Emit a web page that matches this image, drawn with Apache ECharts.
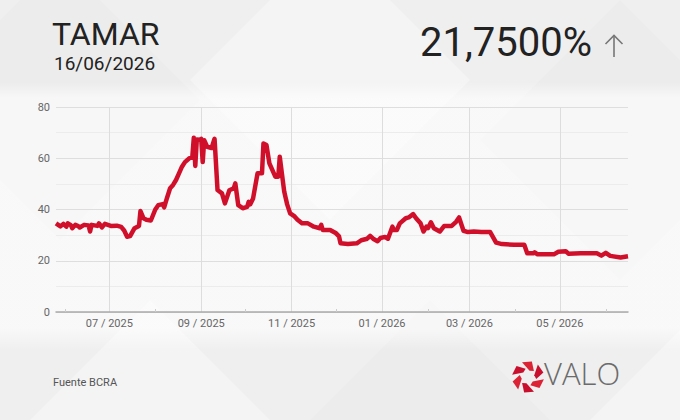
<!DOCTYPE html>
<html>
<head>
<meta charset="utf-8" />
<title>TAMAR</title>
<script src="https://cdn.jsdelivr.net/npm/echarts@6/dist/echarts.min.js"></script>
<style>
	html, body { margin: 0; padding: 0; background: #efefef; }
	#chart { width: 680px; height: 420px; }
</style>
</head>
<body>
<div id="chart"></div>
<script>
// fechas y valores (TAMAR, % TNA)
var fechas = [
	'2025-05-26', '2025-05-28', '2025-05-29', '2025-05-31', '2025-06-02', '2025-06-03', '2025-06-05', '2025-06-06',
	'2025-06-08', '2025-06-10', '2025-06-11', '2025-06-14', '2025-06-17', '2025-06-18', '2025-06-19', '2025-06-23',
	'2025-06-24', '2025-06-26', '2025-06-28', '2025-07-02', '2025-07-06', '2025-07-09', '2025-07-11', '2025-07-13',
	'2025-07-15', '2025-07-18', '2025-07-21', '2025-07-22', '2025-07-24', '2025-07-26', '2025-07-29', '2025-08-01',
	'2025-08-03', '2025-08-06', '2025-08-07', '2025-08-09', '2025-08-11', '2025-08-13', '2025-08-15', '2025-08-17',
	'2025-08-19', '2025-08-21', '2025-08-24', '2025-08-26', '2025-08-27', '2025-08-28', '2025-08-29', '2025-08-31',
	'2025-09-01', '2025-09-02', '2025-09-03', '2025-09-05', '2025-09-08', '2025-09-10', '2025-09-12', '2025-09-15',
	'2025-09-17', '2025-09-20', '2025-09-23', '2025-09-24', '2025-09-26', '2025-09-29', '2025-10-02', '2025-10-03',
	'2025-10-04', '2025-10-06', '2025-10-09', '2025-10-12', '2025-10-13', '2025-10-15', '2025-10-17', '2025-10-21',
	'2025-10-23', '2025-10-24', '2025-10-26', '2025-10-27', '2025-10-28', '2025-10-29', '2025-10-31', '2025-11-03',
	'2025-11-05', '2025-11-08', '2025-11-12', '2025-11-16', '2025-11-20', '2025-11-21', '2025-11-22', '2025-11-27',
	'2025-12-01', '2025-12-03', '2025-12-04', '2025-12-09', '2025-12-15', '2025-12-18', '2025-12-22', '2025-12-24',
	'2025-12-26', '2025-12-29', '2025-12-31', '2026-01-03', '2026-01-05', '2026-01-08', '2026-01-09', '2026-01-11',
	'2026-01-13', '2026-01-17', '2026-01-19', '2026-01-22', '2026-01-24', '2026-01-27', '2026-01-29', '2026-01-31',
	'2026-02-01', '2026-02-03', '2026-02-05', '2026-02-09', '2026-02-12', '2026-02-17', '2026-02-20', '2026-02-22',
	'2026-02-25', '2026-02-28', '2026-03-04', '2026-03-09', '2026-03-15', '2026-03-19', '2026-03-23', '2026-03-31',
	'2026-04-07', '2026-04-09', '2026-04-13', '2026-04-14', '2026-04-16', '2026-04-27', '2026-04-30', '2026-05-05',
	'2026-05-07', '2026-05-15', '2026-05-26', '2026-05-29', '2026-06-01', '2026-06-04', '2026-06-11', '2026-06-16'
];
var tasas = [
	34.6, 33.8, 33.4, 34.4, 33.3, 34.6, 33.9, 32.7,
	34.0, 33.5, 33.0, 34.0, 33.8, 31.4, 34.0, 33.6,
	34.6, 33.0, 34.4, 33.6, 33.7, 33.2, 31.8, 29.4,
	29.6, 32.7, 33.6, 39.4, 36.6, 36.0, 35.7, 40.0,
	41.7, 42.1, 40.8, 44.7, 48.3, 49.6, 51.5, 54.1,
	56.7, 58.5, 60.0, 60.6, 68.0, 57.0, 67.3, 67.2,
	67.6, 58.5, 67.0, 64.5, 64.0, 67.6, 47.6, 46.3,
	42.4, 47.5, 48.3, 50.2, 41.7, 40.5, 41.0, 43.0,
	42.0, 44.3, 54.1, 54.1, 65.8, 65.2, 58.0, 52.8,
	52.8, 60.6, 51.5, 47.0, 44.5, 42.0, 38.5, 37.3,
	36.0, 34.6, 34.6, 33.3, 32.7, 34.0, 32.0, 32.0,
	30.7, 29.5, 26.8, 26.5, 26.8, 28.0, 28.6, 29.7,
	28.6, 27.6, 28.9, 29.3, 28.6, 33.3, 32.0, 32.0,
	34.6, 36.6, 36.9, 38.2, 36.6, 34.6, 31.4, 33.3,
	32.7, 35.0, 32.7, 31.4, 33.6, 33.6, 35.2, 36.9,
	31.7, 31.2, 31.4, 31.2, 31.2, 27.1, 26.5, 26.2,
	26.2, 22.9, 22.9, 23.3, 22.5, 22.5, 23.5, 23.7,
	22.7, 22.9, 22.9, 22.0, 23.1, 21.9, 21.3, 21.75
];
// meses con etiqueta y meses con marca corta
var mesesEtiqueta = ['2025-07-01', '2025-09-01', '2025-11-01', '2026-01-01', '2026-03-01', '2026-05-01'];
var mesesMarca = ['2025-06-01', '2025-08-01', '2025-10-01', '2025-12-01', '2026-02-01', '2026-04-01', '2026-06-01'];
var desde = '2025-05-26';
var hasta = '2026-06-16';

var titulo = 'TAMAR';
var fechaDato = '16/06/2026';
var valorActual = '21,7500%';
var fuente = 'Fuente BCRA';

var serie = fechas.map(function(f, i) {
	return [Date.parse(f), tasas[i]];
});

var myChart = echarts.init(document.getElementById('chart'), null, { renderer: 'svg' });

// fondo con rombos suaves
var fondo = [
	[[60, -40], [200, 100], [60, 240], [-80, 100]],
	[[330, -60], [470, 80], [330, 220], [190, 80]],
	[[620, 0], [760, 140], [620, 280], [480, 140]],
	[[150, 300], [290, 440], [150, 580], [10, 440]],
	[[430, 300], [570, 440], [430, 580], [290, 440]],
	[[680, 330], [800, 450], [680, 570], [560, 450]]
];
var graficos = [];
fondo.forEach(function(p, i) {
	graficos.push({
		type: 'polygon', silent: true, z: -10,
		shape: { points: p },
		style: { fill: i % 2 ? 'rgba(255,255,255,0.3)' : 'rgba(0,0,0,0.012)' }
	});
});
// banda clara detras del grafico, con bordes difusos
graficos.push({
	type: 'rect', silent: true, z: -9,
	shape: { x: 0, y: 82, width: 680, height: 268 },
	style: {
		fill: {
			type: 'linear', x: 0, y: 0, x2: 0, y2: 1,
			colorStops: [
				{ offset: 0, color: 'rgba(255,255,255,0)' },
				{ offset: 0.06, color: 'rgba(255,255,255,0.6)' },
				{ offset: 0.92, color: 'rgba(255,255,255,0.6)' },
				{ offset: 1, color: 'rgba(255,255,255,0)' }
			]
		}
	}
});

// textos
graficos.push({
	type: 'text', left: 52, top: 18,
	style: { text: titulo, font: '400 32px Roboto', fill: '#222' }
});
graficos.push({
	type: 'text', left: 54, top: 54,
	style: { text: fechaDato, font: '400 19px Roboto', fill: '#222' }
});
graficos.push({
	type: 'text', right: 88, top: 22,
	style: { text: valorActual, font: '400 40px Roboto', fill: '#222' }
});
// flecha de subida
graficos.push({
	type: 'polyline', silent: true,
	shape: { points: [[614, 57], [614, 35.5]] },
	style: { stroke: '#777', lineWidth: 1.6, fill: null }
});
graficos.push({
	type: 'polyline', silent: true,
	shape: { points: [[605.5, 44], [614, 35.5], [622.5, 44]] },
	style: { stroke: '#777', lineWidth: 1.6, fill: null }
});
graficos.push({
	type: 'text', left: 53, top: 377,
	style: { text: fuente, font: '400 11px Roboto', fill: '#555' }
});
graficos.push({
	type: 'text', left: 544, top: 357,
	style: { text: 'VALO', font: '300 31px "Open Sans"', fill: '#6b6b6b' }
});

// logo: anillo de aspas rojas (tipo diafragma)
var cx = 528, cy = 377;
var aspa = [[16, -22], [16, 14], [8.5, 44], [6.5, 14]];
for (var k = 0; k < 6; k++) {
	var pts = aspa.map(function(p) {
		var a = (p[1] + k * 60) * Math.PI / 180;
		return [cx + p[0] * Math.sin(a), cy - p[0] * Math.cos(a)];
	});
	graficos.push({
		type: 'polygon', silent: true,
		shape: { points: pts },
		style: { fill: k % 2 ? '#c8102e' : '#dc2235' }
	});
}

function mesAnio(v) {
	var d = new Date(v);
	var m = d.getUTCMonth() + 1;
	return (m < 10 ? '0' + m : m) + ' / ' + d.getUTCFullYear();
}

var option = {
	backgroundColor: 'transparent',
	animation: false,
	textStyle: { fontFamily: 'Roboto' },
	graphic: graficos,
	grid: { left: 56, right: 52, top: 107, bottom: 108, containLabel: false },
	xAxis: [{
		type: 'value',
		min: Date.parse(desde),
		max: Date.parse(hasta),
		axisLine: { lineStyle: { color: '#aaaaaa', width: 1.5 } },
		axisTick: { show: false, customValues: mesesEtiqueta.map(Date.parse) },
		axisLabel: {
			customValues: mesesEtiqueta.map(Date.parse),
			color: '#666',
			fontSize: 11,
			margin: 6,
			formatter: mesAnio
		},
		splitLine: { show: true, lineStyle: { color: '#dddddd', width: 1 } }
	}, {
		type: 'value',
		position: 'bottom',
		min: Date.parse(desde),
		max: Date.parse(hasta),
		axisLine: { show: false },
		axisLabel: { show: false },
		axisTick: { show: true, inside: true, length: 3, customValues: mesesMarca.map(Date.parse), lineStyle: { color: '#cccccc' } },
		splitLine: { show: false }
	}],
	yAxis: {
		type: 'value',
		min: 0,
		max: 80,
		interval: 20,
		axisLine: { show: false },
		axisTick: { show: false },
		axisLabel: { color: '#666', fontSize: 11, margin: 6 },
		splitLine: { lineStyle: { color: '#dedede' } },
		minorTick: { show: false, splitNumber: 2 },
		minorSplitLine: { show: true, lineStyle: { color: '#ececec' } }
	},
	series: [{
		type: 'line',
		data: serie,
		showSymbol: false,
		symbol: 'none',
		lineStyle: { color: '#d0102b', width: 4.5, join: 'round' },
		z: 5
	}]
};

myChart.setOption(option);
</script>
</body>
</html>
